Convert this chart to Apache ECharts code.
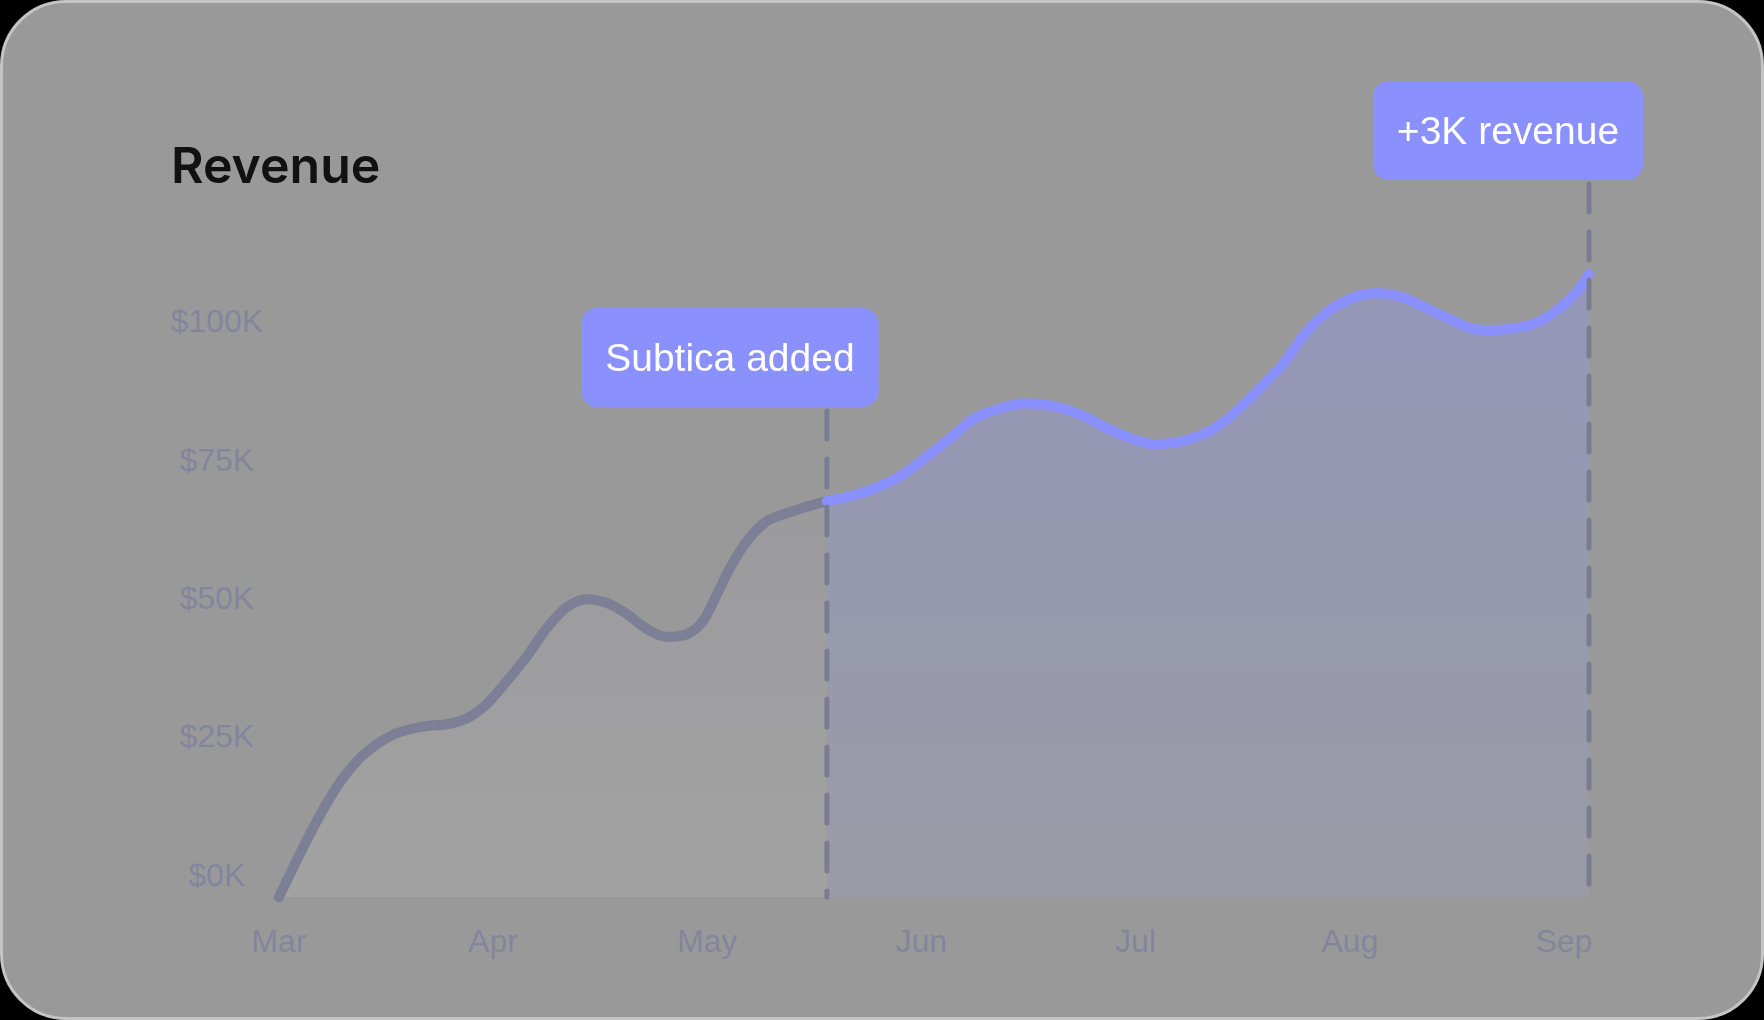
<!DOCTYPE html>
<html>
<head>
<meta charset="utf-8">
<script src="https://cdn.jsdelivr.net/npm/echarts@6/dist/echarts.min.js"></script>
<style>
  html, body { margin:0; padding:0; width:1764px; height:1020px; background:#000; overflow:hidden; }
  #card { position:absolute; left:0; top:0; width:1764px; height:1020px; box-sizing:border-box;
          background:#999999; border:3px solid #c4c4c4; border-radius:66px; }
  #chart { position:absolute; left:0; top:0; width:1764px; height:1020px; }
</style>
</head>
<body>
<div id="card"></div>
<div id="chart"></div>
<script>
// ---- data ----
const months = ['Mar', 'Apr', 'May', 'Jun', 'Jul', 'Aug', 'Sep'];
const yTickLabels = ['$0K', '$25K', '$50K', '$75K', '$100K'];
// revenue before the event (x = month index from Mar, value in $K)
const beforeX = [0, 0.065, 0.145, 0.224, 0.299, 0.378, 0.458, 0.532, 0.612, 0.691, 0.784, 0.878, 0.971,
                 1.064, 1.158, 1.251, 1.345, 1.438, 1.531, 1.625, 1.718, 1.812, 1.905, 1.979, 2.045,
                 2.105, 2.185, 2.278, 2.432, 2.558];
const beforeY = [0, 5.2, 11.4, 17.0, 21.5, 25.1, 27.6, 29.3, 30.3, 30.9, 31.2, 32.3, 34.9,
                 39.0, 43.5, 48.6, 52.4, 53.8, 53.1, 51.1, 48.4, 47.0, 47.5, 49.8, 54.7,
                 59.4, 64.3, 67.9, 70.1, 71.5];
// revenue after the event
const afterX = [2.558, 2.666, 2.773, 2.899, 3.025, 3.133, 3.240, 3.366, 3.492, 3.613, 3.739, 3.866, 3.987,
                4.099, 4.220, 4.346, 4.454, 4.533, 4.687, 4.799, 4.921, 5.033, 5.126, 5.233, 5.341,
                5.467, 5.560, 5.654, 5.780, 5.887, 5.980, 6.060, 6.116];
const afterY = [71.5, 72.4, 73.7, 76.0, 79.6, 82.9, 86.3, 88.3, 89.2, 88.7, 87.2, 84.7, 82.7,
                81.8, 82.4, 84.2, 87.2, 90.1, 96.3, 102.2, 106.4, 108.5, 109.1, 108.5, 106.7,
                104.4, 102.8, 102.4, 102.8, 104.0, 106.4, 109.4, 112.5];
// annotations
const eventX = [2.558, 6.116];
const eventLabels = ['Subtica added', '+3K revenue'];

// ---- style ----
const labelColor = '#83859d';
const grayLine = '#7c7f95';
const blueLine = '#8b90ff';
const boxLayout = [{ dx: -97, bottom: 407 }, { dx: -81, bottom: 180 }];

const zip = (xs, ys) => xs.map((x, i) => [x, ys[i]]);

const chart = echarts.init(document.getElementById('chart'), null, { renderer: 'canvas' });
chart.setOption({
  animation: false,
  backgroundColor: 'transparent',
  title: {
    text: 'Revenue', left: 166, top: 138,
    textStyle: { fontFamily: 'Inter', fontWeight: 600, fontSize: 50, color: '#111111' }
  },
  grid: { left: 279, right: 175, top: 205, bottom: 123 },
  xAxis: {
    type: 'value', min: 0, max: 6.116, interval: 1,
    axisLine: { show: false }, axisTick: { show: false }, splitLine: { show: false },
    axisLabel: {
      margin: 30, color: labelColor, fontSize: 32, fontFamily: 'Liberation Sans',
      formatter: v => (Math.abs(v - Math.round(v)) < 1e-6 && months[Math.round(v)]) || ''
    }
  },
  yAxis: {
    type: 'value', min: 0, max: 125, interval: 25,
    axisLine: { show: false }, axisTick: { show: false }, splitLine: { show: false },
    axisLabel: {
      margin: 62, align: 'center', verticalAlign: 'bottom', lineHeight: 32, padding: [0, 0, 4, 0],
      color: labelColor, fontSize: 32, fontFamily: 'Liberation Sans',
      formatter: v => yTickLabels[Math.round(v / 25)] || ''
    }
  },
  series: [
    {
      type: 'line', data: zip(beforeX, beforeY), smooth: 0.3, symbol: 'none', clip: false,
      lineStyle: { color: grayLine, width: 10, cap: 'round', join: 'round' },
      areaStyle: { color: new echarts.graphic.LinearGradient(0, 0, 0, 1, [
        { offset: 0, color: 'rgb(155,155,158)' }, { offset: 1, color: 'rgb(166,166,167)' }]) },
      z: 2
    },
    {
      type: 'line', data: zip(afterX, afterY), smooth: 0.3, symbol: 'none', clip: false,
      lineStyle: { color: blueLine, width: 10, cap: 'round', join: 'round' },
      areaStyle: { color: new echarts.graphic.LinearGradient(0, 0, 0, 1, [
        { offset: 0, color: 'rgb(147,150,198)' }, { offset: 1, color: 'rgb(153,156,170)' }]) },
      z: 3
    }
  ]
});

const y0 = chart.convertToPixel({ yAxisIndex: 0 }, 0);
const elements = [];
eventX.forEach((xv, i) => {
  const px = chart.convertToPixel({ xAxisIndex: 0 }, xv);
  const lay = boxLayout[i];
  elements.push({
    type: 'line', z: 10,
    shape: { x1: px, y1: lay.bottom + 4, x2: px, y2: y0 },
    style: { stroke: '#7a7d92', lineWidth: 5, lineDash: [28, 20], lineCap: 'round' }
  });
  elements.push({
    type: 'text', z: 20,
    style: {
      text: eventLabels[i], x: px + lay.dx, y: lay.bottom,
      align: 'center', verticalAlign: 'bottom',
      font: '39px "Liberation Sans"', fill: '#ffffff', lineHeight: 39,
      backgroundColor: '#8b90ff', padding: [33, 24, 27, 24], borderRadius: 16
    }
  });
});
chart.setOption({ graphic: { elements } });
</script>
</body>
</html>
